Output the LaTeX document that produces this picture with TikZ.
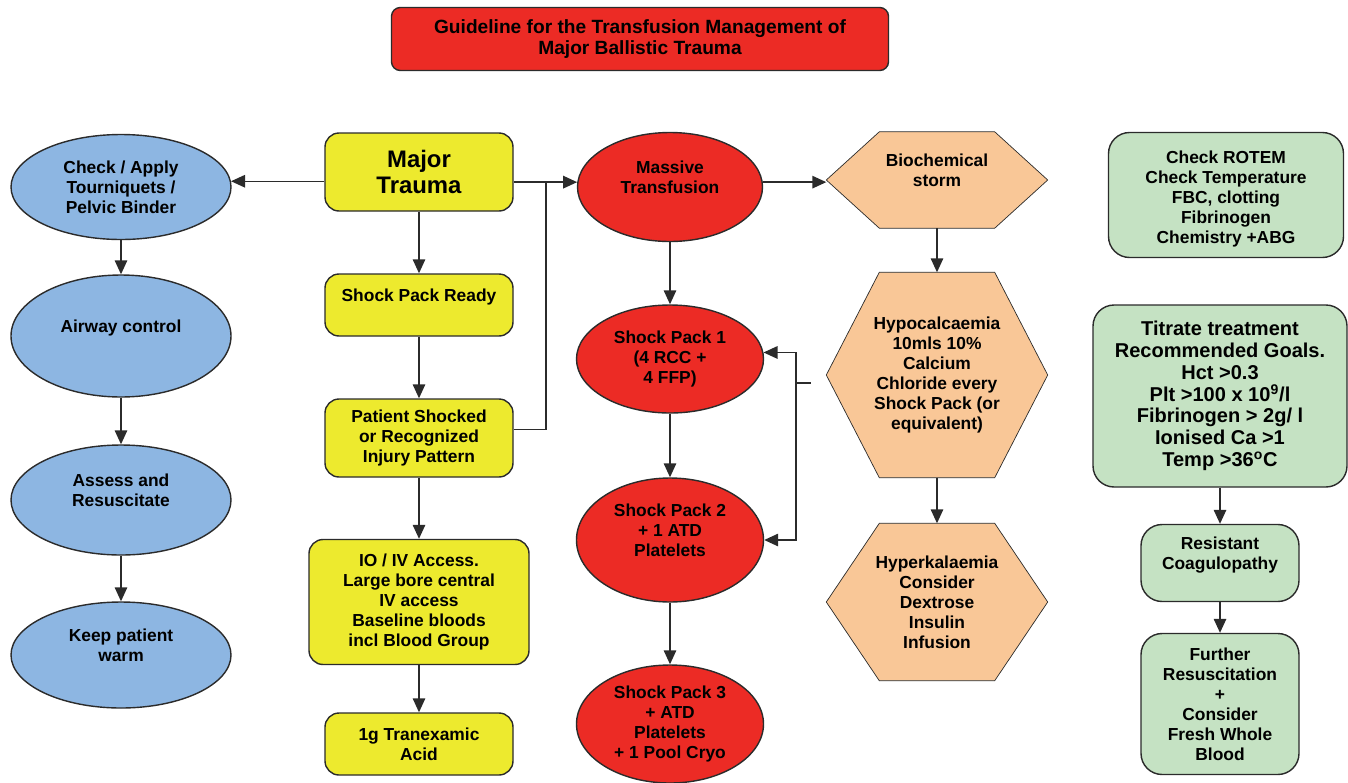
\documentclass[tikz,border=0pt]{standalone}
\usepackage{fontspec}
\setmainfont{Liberation Sans}
\usetikzlibrary{arrows.meta, positioning, shapes.geometric, backgrounds}
\definecolor{cblue}{HTML}{8DB6E2}
\definecolor{cyellow}{HTML}{EDEA2E}
\definecolor{cred}{HTML}{EC2B25}
\definecolor{corange}{HTML}{F9C797}
\definecolor{cgreen}{HTML}{C5E2C3}
\definecolor{cline}{HTML}{2B2B2B}
\tikzset{
  every picture/.style={font=\fontsize{9.9}{11.4}\selectfont\bfseries, line width=0.8pt},
  oval/.style={ellipse, draw=cline, fill=#1, align=center, inner sep=1pt, minimum width=4.4cm},
  box/.style={draw=cline, fill=#1, rounded corners=8pt, align=center, inner sep=4pt, minimum width=3.76cm},
  box/.default=cyellow,
  gbox/.style={draw=cline, fill=cgreen, rounded corners=12pt, align=center, inner sep=4pt},
  hexa/.style={rectangle, align=center, minimum width=4.4cm, inner sep=1pt},
  line/.style={draw=cline},
  arrow/.style={-{Triangle[length=0.28cm, width=0.25cm]}, draw=cline},
}

\begin{document}
\begin{tikzpicture}
  \useasboundingbox (0,0) rectangle (26.96,-15.64);
  \node[box=cred, minimum width=9.94cm, minimum height=1.26cm, rounded corners=5pt, font=\fontsize{10.9}{11.9}\selectfont\bfseries] (title) at (12.8,-0.78) {Guideline for the Transfusion Management of\\Major Ballistic Trauma};
  % left column
  \node[oval=cblue, minimum height=2.1cm] (tq) at (2.42,-3.74) {Check / Apply\\Tourniquets /\\Pelvic Binder};
  \node[oval=cblue, minimum height=2.44cm] (aw) at (2.42,-6.72) {Airway control\\\mbox{}};
  \node[oval=cblue, minimum height=2.2cm] (as) at (2.42,-10.0) {Assess and\\Resuscitate\\\mbox{}};
  \node[oval=cblue, minimum height=2.12cm] (kw) at (2.42,-13.1) {Keep patient\\warm\\\mbox{}};
  % yellow column
  \node[box, minimum height=1.56cm, font=\fontsize{13.6}{15.3}\selectfont\bfseries] (mt) at (8.38,-3.44) {Major\\Trauma};
  \node[box, minimum height=1.24cm] (spr) at (8.38,-6.1) {Shock Pack Ready\\\mbox{}};
  \node[box, minimum height=1.56cm] (ps) at (8.38,-8.76) {Patient Shocked\\or Recognized\\Injury Pattern};
  \node[box, minimum width=4.4cm, minimum height=2.5cm] (io) at (8.38,-12.04) {IO / IV Access.\\Large bore central\\IV access\\Baseline bloods\\incl Blood Group};
  \node[box, minimum height=1.24cm] (tx) at (8.38,-14.88) {1g Tranexamic\\Acid};
  % red column
  \node[oval=cred, minimum width=3.7cm, minimum height=2.18cm] (mass) at (13.4,-3.74) {Massive\\Transfusion\\\mbox{}};
  \node[oval=cred, minimum width=3.74cm, minimum height=2.16cm] (sp1) at (13.4,-7.18) {Shock Pack 1\\(4 RCC +\\4 FFP)};
  \node[oval=cred, minimum width=3.74cm, minimum height=2.48cm] (sp2) at (13.4,-10.8) {Shock Pack 2\\+ 1 ATD\\Platelets\\\mbox{}};
  \node[oval=cred, minimum width=3.74cm, minimum height=2.36cm] (sp3) at (13.4,-14.48) {Shock Pack 3\\+ ATD\\Platelets\\+ 1 Pool Cryo};
  % orange column
  \node[hexa, minimum height=1.9cm] (bio) at (18.74,-3.6) {Biochemical\\storm\\\mbox{}};
  \node[hexa, minimum height=4.08cm] (hypo) at (18.74,-7.5) {Hypocalcaemia\\10mls 10\%\\Calcium\\Chloride every\\Shock Pack (or\\equivalent)};
  \node[hexa, minimum height=3.12cm] (hyper) at (18.74,-12.04) {Hyperkalaemia\\Consider\\Dextrose\\Insulin\\Infusion};
  \begin{scope}[on background layer]
    \foreach \n in {bio, hypo, hyper}
      \filldraw[line, fill=corange] (\n.west) -- ([xshift=1.06cm]\n.north west) -- ([xshift=-1.06cm]\n.north east)
        -- (\n.east) -- ([xshift=-1.06cm]\n.south east) -- ([xshift=1.06cm]\n.south west) -- cycle;
  \end{scope}
  % green column
  \node[gbox, minimum width=4.7cm, minimum height=2.5cm] (chk) at (24.52,-3.9) {\mbox{}\\Check ROTEM\\Check Temperature\\FBC, clotting\\Fibrinogen\\Chemistry +ABG};
  \node[gbox, minimum width=5.08cm, minimum height=3.64cm, font=\fontsize{11.4}{12.4}\selectfont\bfseries] (tit) at (24.4,-7.92) {Titrate treatment\\Recommended Goals.\\Hct >0.3\\Plt >100 x 10\textsuperscript{9}/l\\Fibrinogen > 2g/ l\\Ionised Ca >1\\Temp >36\textsuperscript{o}C};
  \node[gbox, minimum width=3.16cm, minimum height=1.54cm] (res) at (24.4,-11.26) {Resistant\\Coagulopathy\\\mbox{}};
  \node[gbox, minimum width=3.16cm, minimum height=2.82cm] (fur) at (24.4,-14.08) {Further\\Resuscitation\\+\\Consider\\Fresh Whole\\Blood};
  % connectors
  \draw[arrow] (mt.west |- tq.3) -- (tq.3);
  \draw[arrow] (tq) -- (aw);
  \draw[arrow] (aw) -- (as);
  \draw[arrow] (as) -- (kw);
  \draw[arrow] (mt) -- (spr);
  \draw[arrow] (spr) -- (ps);
  \draw[arrow] (ps) -- (io);
  \draw[arrow] (io) -- (tx);
  \coordinate (jn) at (10.92,-3.64);
  \draw[line] (ps.5) -| (jn);
  \draw[arrow] (mt.east |- mass.177) -- (mass.177);
  \draw[arrow] (mass) -- (sp1);
  \draw[arrow] (sp1) -- (sp2);
  \draw[arrow] (sp2) -- (sp3);
  \draw[arrow] (mass.3) -- (mass.3 -| bio.west);
  \draw[arrow] (bio) -- (hypo);
  \draw[arrow] (hypo) -- (hyper);
  \coordinate (fb) at (15.92,-7.66);
  \coordinate (stub) at ([xshift=-0.3cm]hypo.west);
  \draw[line] (fb) -- (fb -| stub);
  \draw[arrow] (fb) |- (sp1.4);
  \draw[arrow] (fb) |- (sp2.east);
  \draw[arrow] (tit) -- (res);
  \draw[arrow] (res) -- (fur);
\end{tikzpicture}
\end{document}
